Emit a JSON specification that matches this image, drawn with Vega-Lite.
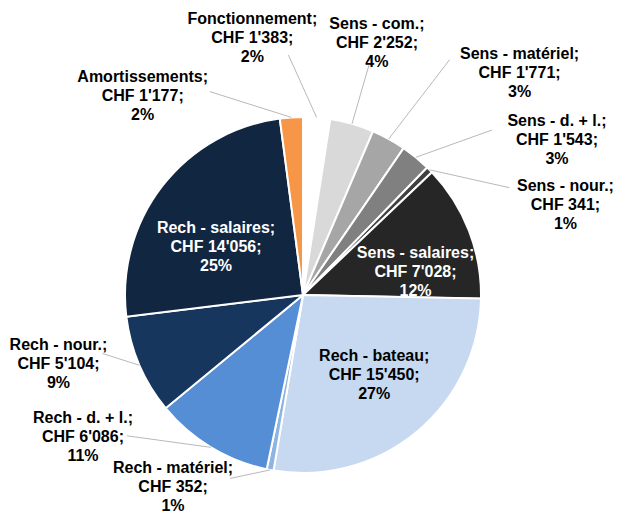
{
  "$schema": "https://vega.github.io/schema/vega-lite/v6.json",
  "width": 606,
  "height": 436,
  "autosize": {"type": "none"},
  "padding": {"left": 0, "top": 77, "right": 11, "bottom": 0},
  "background": "white",
  "config": {"view": {"stroke": null}, "axis": {"disable": true}},
  "data": {
    "values": [
      {"ord": 1, "name": "Fonctionnement", "value": 1383, "label": ["Fonctionnement;", "CHF 1'383;", "2%"]},
      {"ord": 2, "name": "Sens - com.", "value": 2252, "label": ["Sens - com.;", "CHF 2'252;", "4%"]},
      {"ord": 3, "name": "Sens - matériel", "value": 1771, "label": ["Sens - matériel;", "CHF 1'771;", "3%"]},
      {"ord": 4, "name": "Sens - d. + l.", "value": 1543, "label": ["Sens - d. + l.;", "CHF 1'543;", "3%"]},
      {"ord": 5, "name": "Sens - nour.", "value": 341, "label": ["Sens - nour.;", "CHF 341;", "1%"]},
      {"ord": 6, "name": "Sens - salaires", "value": 7028, "label": ["Sens - salaires;", "CHF 7'028;", "12%"]},
      {"ord": 7, "name": "Rech - bateau", "value": 15450, "label": ["Rech - bateau;", "CHF 15'450;", "27%"]},
      {"ord": 8, "name": "Rech - matériel", "value": 352, "label": ["Rech - matériel;", "CHF 352;", "1%"]},
      {"ord": 9, "name": "Rech - d. + l.", "value": 6086, "label": ["Rech - d. + l.;", "CHF 6'086;", "11%"]},
      {"ord": 10, "name": "Rech - nour.", "value": 5104, "label": ["Rech - nour.;", "CHF 5'104;", "9%"]},
      {"ord": 11, "name": "Rech - salaires", "value": 14056, "label": ["Rech - salaires;", "CHF 14'056;", "25%"]},
      {"ord": 12, "name": "Amortissements", "value": 1177, "label": ["Amortissements;", "CHF 1'177;", "2%"]}
    ]
  },
  "layer": [
    {
      "mark": {"type": "arc", "radius": 178, "stroke": "white", "strokeWidth": 2},
      "encoding": {
        "theta": {"field": "value", "type": "quantitative", "stack": true},
        "order": {"field": "ord", "type": "quantitative"},
        "color": {
          "field": "name",
          "type": "nominal",
          "legend": null,
          "scale": {
            "domain": ["Fonctionnement", "Sens - com.", "Sens - matériel", "Sens - d. + l.", "Sens - nour.", "Sens - salaires", "Rech - bateau", "Rech - matériel", "Rech - d. + l.", "Rech - nour.", "Rech - salaires", "Amortissements"],
            "range": ["#ffffff", "#d9d9d9", "#a6a6a6", "#808080", "#404040", "#262626", "#c6d9f1", "#8db4e2", "#558ed5", "#17365d", "#112640", "#f79646"]
          }
        }
      }
    },
    {
      "transform": [
        {"window": [{"op": "sum", "field": "value", "as": "cum"}], "sort": [{"field": "ord"}], "frame": [null, 0]},
        {"joinaggregate": [{"op": "sum", "field": "value", "as": "total"}]},
        {"calculate": "2*PI*(datum.cum - datum.value/2)/datum.total", "as": "mid"},
        {"calculate": "178*sin(datum.mid)", "as": "ex"},
        {"calculate": "178*cos(datum.mid)", "as": "ey"},
        {"calculate": "265*sin(datum.mid)", "as": "lx"},
        {"calculate": "265*cos(datum.mid)", "as": "ly"},
        {"calculate": "110*sin(datum.mid)", "as": "ix"},
        {"calculate": "110*cos(datum.mid)", "as": "iy"}
      ],
      "encoding": {
        "x": {"field": "lx", "type": "quantitative", "axis": null, "scale": {"domain": [-303, 303], "nice": false, "zero": false}},
        "y": {"field": "ly", "type": "quantitative", "axis": null, "scale": {"domain": [-218, 218], "nice": false, "zero": false}}
      },
      "layer": [
        {"transform": [{"filter": "datum.name === 'Fonctionnement'"}], "mark": {"type": "rule", "color": "#a6a6a6", "strokeWidth": 0.8, "x2Offset": -35, "y2Offset": 24}, "encoding": {"x": {"field": "ex", "type": "quantitative", "axis": null, "scale": {"domain": [-303, 303], "nice": false, "zero": false}}, "y": {"field": "ey", "type": "quantitative", "axis": null, "scale": {"domain": [-218, 218], "nice": false, "zero": false}}, "x2": {"field": "lx"}, "y2": {"field": "ly"}}},
        {"transform": [{"filter": "datum.name === 'Sens - com.'"}], "mark": {"type": "rule", "color": "#a6a6a6", "strokeWidth": 0.8, "x2Offset": -7, "y2Offset": 25}, "encoding": {"x": {"field": "ex", "type": "quantitative", "axis": null, "scale": {"domain": [-303, 303], "nice": false, "zero": false}}, "y": {"field": "ey", "type": "quantitative", "axis": null, "scale": {"domain": [-218, 218], "nice": false, "zero": false}}, "x2": {"field": "lx"}, "y2": {"field": "ly"}}},
        {"transform": [{"filter": "datum.name === 'Sens - matériel'"}], "mark": {"type": "rule", "color": "#a6a6a6", "strokeWidth": 0.8, "x2Offset": 19, "y2Offset": -3}, "encoding": {"x": {"field": "ex", "type": "quantitative", "axis": null, "scale": {"domain": [-303, 303], "nice": false, "zero": false}}, "y": {"field": "ey", "type": "quantitative", "axis": null, "scale": {"domain": [-218, 218], "nice": false, "zero": false}}, "x2": {"field": "lx"}, "y2": {"field": "ly"}}},
        {"transform": [{"filter": "datum.name === 'Sens - d. + l.'"}], "mark": {"type": "rule", "color": "#a6a6a6", "strokeWidth": 0.8, "x2Offset": 21, "y2Offset": 40}, "encoding": {"x": {"field": "ex", "type": "quantitative", "axis": null, "scale": {"domain": [-303, 303], "nice": false, "zero": false}}, "y": {"field": "ey", "type": "quantitative", "axis": null, "scale": {"domain": [-218, 218], "nice": false, "zero": false}}, "x2": {"field": "lx"}, "y2": {"field": "ly"}}},
        {"transform": [{"filter": "datum.name === 'Sens - nour.'"}], "mark": {"type": "rule", "color": "#a6a6a6", "strokeWidth": 0.8, "x2Offset": 18, "y2Offset": 79}, "encoding": {"x": {"field": "ex", "type": "quantitative", "axis": null, "scale": {"domain": [-303, 303], "nice": false, "zero": false}}, "y": {"field": "ey", "type": "quantitative", "axis": null, "scale": {"domain": [-218, 218], "nice": false, "zero": false}}, "x2": {"field": "lx"}, "y2": {"field": "ly"}}},
        {"transform": [{"filter": "datum.name === 'Rech - matériel'"}], "mark": {"type": "rule", "color": "#a6a6a6", "strokeWidth": 0.8, "x2Offset": -24, "y2Offset": -77}, "encoding": {"x": {"field": "ex", "type": "quantitative", "axis": null, "scale": {"domain": [-303, 303], "nice": false, "zero": false}}, "y": {"field": "ey", "type": "quantitative", "axis": null, "scale": {"domain": [-218, 218], "nice": false, "zero": false}}, "x2": {"field": "lx"}, "y2": {"field": "ly"}}},
        {"transform": [{"filter": "datum.name === 'Rech - d. + l.'"}], "mark": {"type": "rule", "color": "#a6a6a6", "strokeWidth": 0.8, "x2Offset": -39, "y2Offset": -86}, "encoding": {"x": {"field": "ex", "type": "quantitative", "axis": null, "scale": {"domain": [-303, 303], "nice": false, "zero": false}}, "y": {"field": "ey", "type": "quantitative", "axis": null, "scale": {"domain": [-218, 218], "nice": false, "zero": false}}, "x2": {"field": "lx"}, "y2": {"field": "ly"}}},
        {"transform": [{"filter": "datum.name === 'Rech - nour.'"}], "mark": {"type": "rule", "color": "#a6a6a6", "strokeWidth": 0.8, "x2Offset": 43, "y2Offset": -46}, "encoding": {"x": {"field": "ex", "type": "quantitative", "axis": null, "scale": {"domain": [-303, 303], "nice": false, "zero": false}}, "y": {"field": "ey", "type": "quantitative", "axis": null, "scale": {"domain": [-218, 218], "nice": false, "zero": false}}, "x2": {"field": "lx"}, "y2": {"field": "ly"}}},
        {"transform": [{"filter": "datum.name === 'Amortissements'"}], "mark": {"type": "rule", "color": "#a6a6a6", "strokeWidth": 0.8, "x2Offset": -76, "y2Offset": 61}, "encoding": {"x": {"field": "ex", "type": "quantitative", "axis": null, "scale": {"domain": [-303, 303], "nice": false, "zero": false}}, "y": {"field": "ey", "type": "quantitative", "axis": null, "scale": {"domain": [-218, 218], "nice": false, "zero": false}}, "x2": {"field": "lx"}, "y2": {"field": "ly"}}},

        {"transform": [{"filter": "datum.name === 'Fonctionnement'"}], "mark": {"type": "text", "font": "Liberation Sans", "fontWeight": "bold", "fontSize": 16, "lineHeight": 19, "baseline": "middle", "color": "#000000", "dx": -71, "dy": -12}, "encoding": {"text": {"field": "label"}}},
        {"transform": [{"filter": "datum.name === 'Sens - com.'"}], "mark": {"type": "text", "font": "Liberation Sans", "fontWeight": "bold", "fontSize": 16, "lineHeight": 19, "baseline": "middle", "color": "#000000", "dx": 1, "dy": -16}, "encoding": {"text": {"field": "label"}}},
        {"transform": [{"filter": "datum.name === 'Sens - matériel'"}], "mark": {"type": "text", "font": "Liberation Sans", "fontWeight": "bold", "fontSize": 16, "lineHeight": 19, "baseline": "middle", "color": "#000000", "dx": 89, "dy": -9}, "encoding": {"text": {"field": "label"}}},
        {"transform": [{"filter": "datum.name === 'Sens - d. + l.'"}], "mark": {"type": "text", "font": "Liberation Sans", "fontWeight": "bold", "fontSize": 16, "lineHeight": 19, "baseline": "middle", "color": "#000000", "dx": 86, "dy": 31}, "encoding": {"text": {"field": "label"}}},
        {"transform": [{"filter": "datum.name === 'Sens - nour.'"}], "mark": {"type": "text", "font": "Liberation Sans", "fontWeight": "bold", "fontSize": 16, "lineHeight": 19, "baseline": "middle", "color": "#000000", "dx": 74, "dy": 77}, "encoding": {"text": {"field": "label"}}},
        {"transform": [{"filter": "datum.name === 'Rech - matériel'"}], "mark": {"type": "text", "font": "Liberation Sans", "fontWeight": "bold", "fontSize": 16, "lineHeight": 19, "baseline": "middle", "color": "#000000", "dx": -81, "dy": -87}, "encoding": {"text": {"field": "label"}}},
        {"transform": [{"filter": "datum.name === 'Rech - d. + l.'"}], "mark": {"type": "text", "font": "Liberation Sans", "fontWeight": "bold", "fontSize": 16, "lineHeight": 19, "baseline": "middle", "color": "#000000", "dx": -83, "dy": -104}, "encoding": {"text": {"field": "label"}}},
        {"transform": [{"filter": "datum.name === 'Rech - nour.'"}], "mark": {"type": "text", "font": "Liberation Sans", "fontWeight": "bold", "fontSize": 16, "lineHeight": 19, "baseline": "middle", "color": "#000000", "dx": -1, "dy": -55}, "encoding": {"text": {"field": "label"}}},
        {"transform": [{"filter": "datum.name === 'Amortissements'"}], "mark": {"type": "text", "font": "Liberation Sans", "fontWeight": "bold", "fontSize": 16, "lineHeight": 19, "baseline": "middle", "color": "#000000", "dx": -143, "dy": 46}, "encoding": {"text": {"field": "label"}}},

        {"transform": [{"filter": "datum.name === 'Sens - salaires'"}], "mark": {"type": "text", "font": "Liberation Sans", "fontWeight": "bold", "fontSize": 16, "lineHeight": 19, "baseline": "middle", "color": "#ffffff", "dx": 10, "dy": -2}, "encoding": {"x": {"field": "ix", "type": "quantitative", "axis": null, "scale": {"domain": [-303, 303], "nice": false, "zero": false}}, "y": {"field": "iy", "type": "quantitative", "axis": null, "scale": {"domain": [-218, 218], "nice": false, "zero": false}}, "text": {"field": "label"}}},
        {"transform": [{"filter": "datum.name === 'Rech - bateau'"}], "mark": {"type": "text", "font": "Liberation Sans", "fontWeight": "bold", "fontSize": 16, "lineHeight": 19, "baseline": "middle", "color": "#000000", "dx": 1, "dy": -24}, "encoding": {"x": {"field": "ix", "type": "quantitative", "axis": null, "scale": {"domain": [-303, 303], "nice": false, "zero": false}}, "y": {"field": "iy", "type": "quantitative", "axis": null, "scale": {"domain": [-218, 218], "nice": false, "zero": false}}, "text": {"field": "label"}}},
        {"transform": [{"filter": "datum.name === 'Rech - salaires'"}], "mark": {"type": "text", "font": "Liberation Sans", "fontWeight": "bold", "fontSize": 16, "lineHeight": 19, "baseline": "middle", "color": "#ffffff", "dx": 0, "dy": 0}, "encoding": {"x": {"field": "ix", "type": "quantitative", "axis": null, "scale": {"domain": [-303, 303], "nice": false, "zero": false}}, "y": {"field": "iy", "type": "quantitative", "axis": null, "scale": {"domain": [-218, 218], "nice": false, "zero": false}}, "text": {"field": "label"}}}
      ]
    }
  ]
}
